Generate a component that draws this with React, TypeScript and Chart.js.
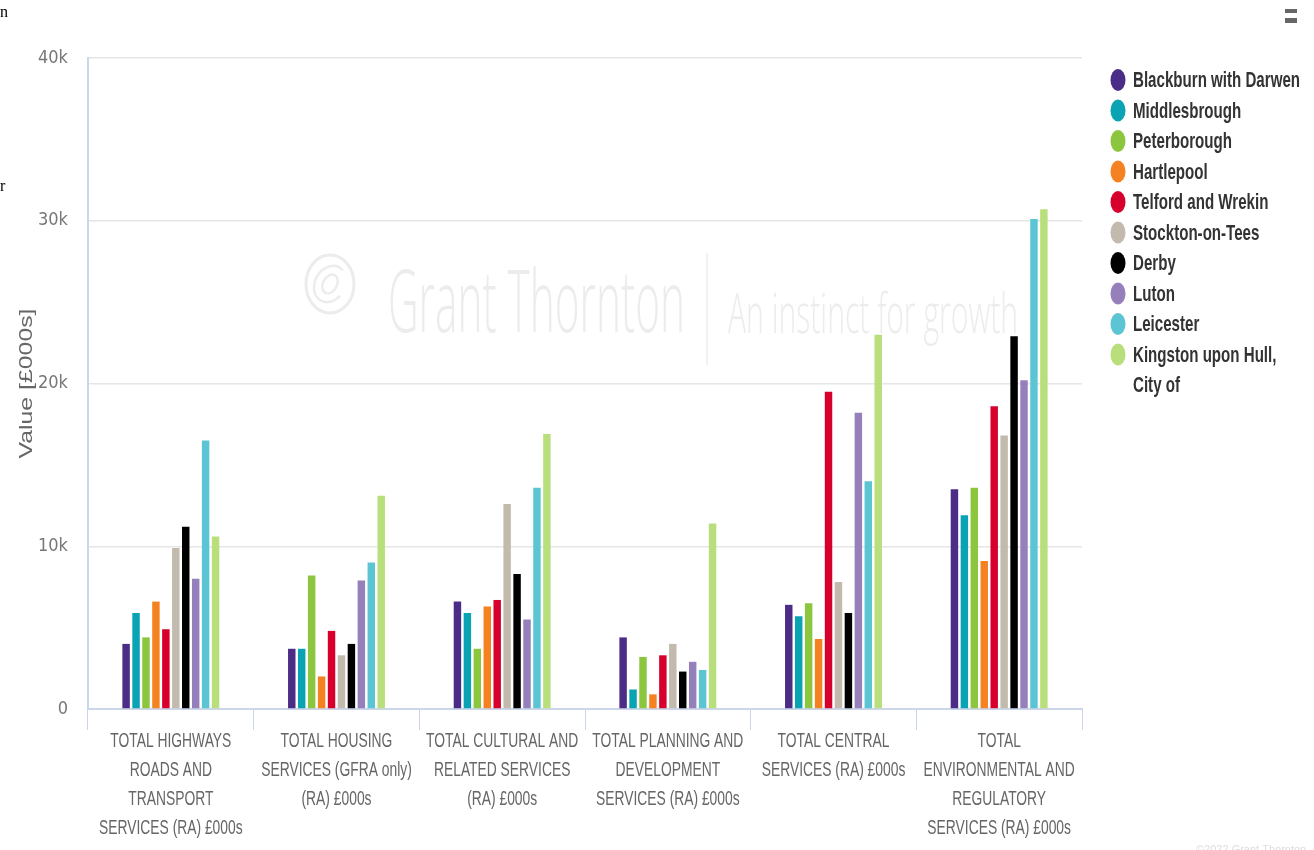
import React, { useEffect, useRef } from "react";
import { Chart, registerables } from "chart.js";

Chart.register(...registerables);

const categories: string[][] = [
  ["TOTAL HIGHWAYS", "ROADS AND", "TRANSPORT", "SERVICES (RA) £000s"],
  ["TOTAL HOUSING", "SERVICES (GFRA only)", "(RA) £000s"],
  ["TOTAL CULTURAL AND", "RELATED SERVICES", "(RA) £000s"],
  ["TOTAL PLANNING AND", "DEVELOPMENT", "SERVICES (RA) £000s"],
  ["TOTAL CENTRAL", "SERVICES (RA) £000s"],
  ["TOTAL", "ENVIRONMENTAL AND", "REGULATORY", "SERVICES (RA) £000s"],
];

const seriesNames = [
  "Blackburn with Darwen",
  "Middlesbrough",
  "Peterborough",
  "Hartlepool",
  "Telford and Wrekin",
  "Stockton-on-Tees",
  "Derby",
  "Luton",
  "Leicester",
  "Kingston upon Hull, City of",
];

const legendLines: string[][] = [
  ["Blackburn with Darwen"],
  ["Middlesbrough"],
  ["Peterborough"],
  ["Hartlepool"],
  ["Telford and Wrekin"],
  ["Stockton-on-Tees"],
  ["Derby"],
  ["Luton"],
  ["Leicester"],
  ["Kingston upon Hull,", "City of"],
];

const seriesColors = [
  "#4b2c86",
  "#0aa3b3",
  "#8cc63f",
  "#f58220",
  "#d7002c",
  "#c2baad",
  "#000000",
  "#9580bb",
  "#5cc5d3",
  "#b8df7c",
];

const blackburn = [4000, 3700, 6600, 4400, 6400, 13500];
const middlesbrough = [5900, 3700, 5900, 1200, 5700, 11900];
const peterborough = [4400, 8200, 3700, 3200, 6500, 13600];
const hartlepool = [6600, 2000, 6300, 900, 4300, 9100];
const telford = [4900, 4800, 6700, 3300, 19500, 18600];
const stockton = [9900, 3300, 12600, 4000, 7800, 16800];
const derby = [11200, 4000, 8300, 2300, 5900, 22900];
const luton = [8000, 7900, 5500, 2900, 18200, 20200];
const leicester = [16500, 9000, 13600, 2400, 14000, 30100];
const hull = [10600, 13100, 16900, 11400, 23000, 30700];

const seriesValues = [
  blackburn,
  middlesbrough,
  peterborough,
  hartlepool,
  telford,
  stockton,
  derby,
  luton,
  leicester,
  hull,
];

const yTicks = [0, 10000, 20000, 30000, 40000];
const yTickLabels = ["0", "10k", "20k", "30k", "40k"];

const decorPlugin = {
  id: "decor",
  beforeDatasetsDraw(chart: any) {
    const ctx = chart.ctx as CanvasRenderingContext2D;
    ctx.save();
    const wm = "#ececec";
    // logo
    ctx.strokeStyle = wm;
    ctx.lineWidth = 3;
    ctx.beginPath();
    ctx.ellipse(330, 284, 24, 29, 0, 0, Math.PI * 2);
    ctx.stroke();
    ctx.lineWidth = 2.5;
    ctx.beginPath();
    ctx.ellipse(330, 284, 15, 19, 0.5, 0.3, Math.PI * 1.6);
    ctx.stroke();
    ctx.beginPath();
    ctx.ellipse(330, 284, 7, 10, 0.5, 1.3, Math.PI * 2.4);
    ctx.stroke();
    // Grant Thornton
    ctx.fillStyle = wm;
    ctx.textBaseline = "alphabetic";
    ctx.textAlign = "left";
    ctx.font = "300 86px 'Open Sans', 'Liberation Sans', sans-serif";
    ctx.fillText("Grant Thornton", 388, 332, 297);
    // divider
    ctx.strokeStyle = wm;
    ctx.lineWidth = 1.5;
    ctx.beginPath();
    ctx.moveTo(707, 253);
    ctx.lineTo(707, 365);
    ctx.stroke();
    ctx.font = "300 56px 'Open Sans', 'Liberation Sans', sans-serif";
    ctx.fillText("An instinct for growth", 728, 333, 290);
    ctx.restore();
  },
  afterDraw(chart: any) {
    const ctx = chart.ctx as CanvasRenderingContext2D;
    const xs = chart.scales.x;
    const area = chart.chartArea;
    ctx.save();
    // x category labels
    ctx.fillStyle = "#666666";
    ctx.textAlign = "center";
    ctx.textBaseline = "middle";
    ctx.font = "20px 'Liberation Sans', Arial, sans-serif";
    const refW = ctx.measureText("TOTAL HIGHWAYS").width;
    const sxLab = 121 / refW;
    categories.forEach((lines, i) => {
      const x = xs.getPixelForValue(i);
      lines.forEach((line, j) => {
        const y = area.bottom + 32 + j * 29;
        ctx.save();
        ctx.translate(x, y);
        ctx.scale(sxLab, 1);
        ctx.fillText(line, 0, 0);
        ctx.restore();
      });
    });
    // y title
    ctx.save();
    ctx.font = "19px 'Liberation Sans', Arial, sans-serif";
    ctx.fillStyle = "#666666";
    const tw = ctx.measureText("Value [£000s]").width;
    ctx.translate(27, (area.top + area.bottom) / 2);
    ctx.rotate(-Math.PI / 2);
    ctx.scale(150 / tw, 1);
    ctx.textAlign = "center";
    ctx.textBaseline = "middle";
    ctx.fillText("Value [£000s]", 0, 0);
    ctx.restore();
    // legend
    ctx.font = "bold 22px 'Liberation Sans', Arial, sans-serif";
    const lw = ctx.measureText("Blackburn with Darwen").width;
    const sxLeg = 167 / lw;
    ctx.textAlign = "left";
    ctx.textBaseline = "middle";
    chart.data.datasets.forEach((ds: any, i: number) => {
      const cy = 80 + i * 30.5;
      ctx.fillStyle = ds.backgroundColor;
      ctx.beginPath();
      ctx.ellipse(1118, cy, 7.5, 11, 0, 0, Math.PI * 2);
      ctx.fill();
      ctx.fillStyle = "#333333";
      legendLines[i].forEach((line, j) => {
        ctx.save();
        ctx.translate(1133, cy + j * 30);
        ctx.scale(sxLeg, 1);
        ctx.fillText(line, 0, 1);
        ctx.restore();
      });
    });
    // menu icon
    ctx.fillStyle = "#666666";
    ctx.fillRect(1285, 9, 12, 4);
    ctx.fillRect(1285, 18, 12, 5);
    // credit
    ctx.fillStyle = "#dddddd";
    ctx.font = "11px 'Liberation Sans', Arial, sans-serif";
    ctx.textAlign = "left";
    ctx.textBaseline = "alphabetic";
    ctx.fillText("©2022 Grant Thornton", 1196, 853);
    ctx.restore();
  },
};

export default function App() {
  const canvasRef = useRef<HTMLCanvasElement | null>(null);

  useEffect(() => {
    const canvas = canvasRef.current;
    if (!canvas) return;
    const chart = new Chart(canvas, {
      type: "bar",
      data: {
        labels: categories.map((c) => c.join(" ")),
        datasets: seriesNames.map((name, i) => ({
          label: name,
          data: seriesValues[i],
          backgroundColor: seriesColors[i],
          borderWidth: 0,
          categoryPercentage: 0.6,
          barPercentage: 0.75,
        })),
      },
      options: {
        animation: false,
        responsive: false,
        maintainAspectRatio: false,
        layout: { padding: { top: 58, right: 232, bottom: 0, left: 0 } },
        plugins: {
          legend: { display: false },
          tooltip: { enabled: false },
        },
        scales: {
          x: {
            grid: {
              offset: true,
              drawOnChartArea: false,
              drawTicks: true,
              tickLength: 21,
              color: "#ccd6eb",
              lineWidth: 1,
            },
            border: { display: true, color: "#ccd6eb", width: 2 },
            ticks: { display: false },
            afterFit: (s: any) => {
              s.height = 141;
            },
          },
          y: {
            min: 0,
            max: 40000,
            afterBuildTicks: (s: any) => {
              s.ticks = yTicks.map((v) => ({ value: v }));
            },
            ticks: {
              callback: (v: any) => yTickLabels[yTicks.indexOf(Number(v))] ?? "",
              color: "#777777",
              font: { family: "'Liberation Sans Narrow', 'Arial Narrow', 'DejaVu Sans Condensed', sans-serif", size: 18 },
              padding: 20,
            },
            grid: { color: "#e6e6e6", lineWidth: 1.5, drawTicks: false },
            border: { display: true, color: "#ccd6eb", width: 2 },
            afterFit: (s: any) => {
              s.width = 88;
            },
          },
        },
      },
      plugins: [decorPlugin],
    });
    return () => chart.destroy();
  }, []);

  return (
    <div style={{ position: "absolute", left: 0, top: 0, width: 1314, height: 850, background: "#fff", overflow: "hidden" }}>
      <canvas ref={canvasRef} width={1314} height={850} style={{ display: "block" }} />
      <span style={{ position: "absolute", left: 0, top: 3, fontFamily: "serif", fontSize: 16, color: "#000" }}>n</span>
      <span style={{ position: "absolute", left: 0, top: 177, fontFamily: "serif", fontSize: 16, color: "#000" }}>r</span>
    </div>
  );
}
